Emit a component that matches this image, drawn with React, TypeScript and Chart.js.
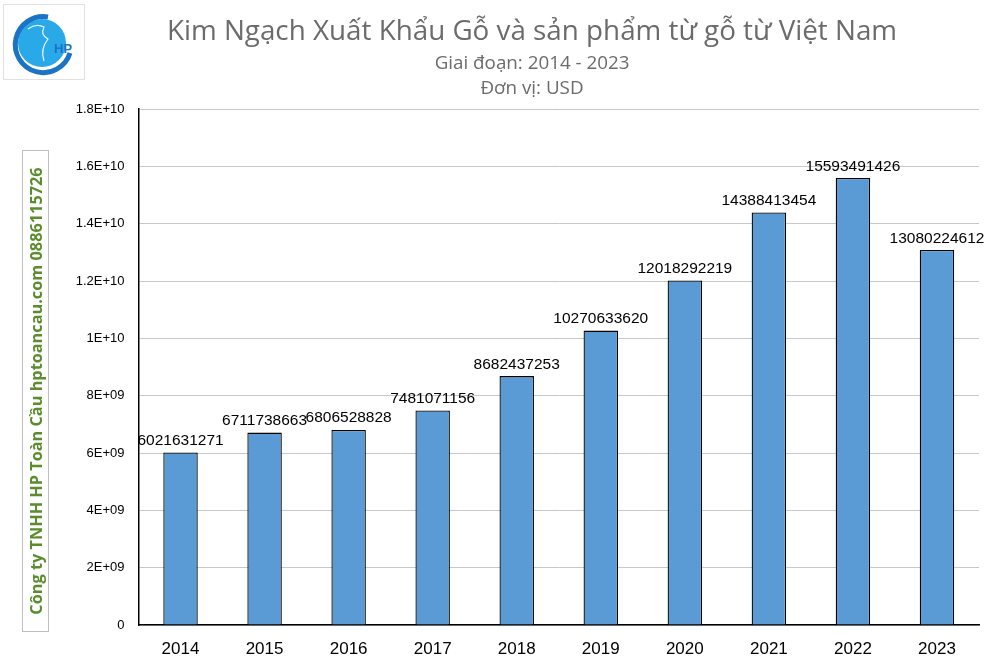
import React, { useEffect, useRef } from "react";
import { Chart, registerables } from "chart.js";

Chart.register(...registerables);

const categories = ["2014", "2015", "2016", "2017", "2018", "2019", "2020", "2021", "2022", "2023"];
const exportValues = [
  6021631271, 6711738663, 6806528828, 7481071156, 8682437253,
  10270633620, 12018292219, 14388413454, 15593491426, 13080224612,
];
const yTickLabels = ["0", "2E+09", "4E+09", "6E+09", "8E+09", "1E+10", "1.2E+10", "1.4E+10", "1.6E+10", "1.8E+10"];

const titleText = "Kim Ngạch Xuất Khẩu Gỗ và sản phẩm từ gỗ từ Việt Nam";
const subtitleText = "Giai đoạn: 2014 - 2023";
const unitText = "Đơn vị: USD";
const sideText = "Công ty TNHH HP Toàn Cầu hptoancau.com 0886115726";

const valueLabelPlugin = {
  id: "valueLabels",
  afterDatasetsDraw(chart: any) {
    const ctx = chart.ctx;
    const meta = chart.getDatasetMeta(0);
    const data = chart.data.datasets[0].data;
    ctx.save();
    ctx.font = "15.5px 'Liberation Sans', Arial, sans-serif";
    ctx.fillStyle = "#000";
    ctx.textAlign = "center";
    ctx.textBaseline = "bottom";
    meta.data.forEach((el: any, i: number) => {
      ctx.fillText(String(data[i]), el.x, el.y - 4);
    });
    ctx.restore();
  },
};

export default function App() {
  const canvasRef = useRef<HTMLCanvasElement | null>(null);

  useEffect(() => {
    document.body.style.margin = "0";
    const chart = new Chart(canvasRef.current as HTMLCanvasElement, {
      type: "bar",
      data: {
        labels: categories,
        datasets: [
          {
            data: exportValues,
            backgroundColor: "#5B9BD5",
            borderColor: "#000000",
            borderWidth: 1.3,
            barPercentage: 0.41,
            categoryPercentage: 1,
          },
        ],
      },
      options: {
        animation: false,
        responsive: false,
        maintainAspectRatio: false,
        layout: { padding: { left: 0, top: 109, right: 9, bottom: 0 } },
        plugins: {
          legend: { display: false },
          title: { display: false },
          tooltip: { enabled: false },
        },
        scales: {
          x: {
            grid: { display: false, drawTicks: false },
            border: { color: "#000", width: 1.5 },
            ticks: {
              color: "#000",
              padding: 14,
              font: { family: "'Liberation Sans', Arial, sans-serif", size: 17 },
            },
            afterFit(scale: any) {
              scale.height = 43;
            },
          },
          y: {
            min: 0,
            max: 1.8e10,
            grid: { color: "#c8c8c8", drawTicks: false, lineWidth: 1 },
            border: { color: "#000", width: 1.5 },
            ticks: {
              stepSize: 2e9,
              color: "#000",
              padding: 14,
              font: { family: "'Liberation Sans', Arial, sans-serif", size: 13 },
              callback: (_v: any, i: number) => yTickLabels[i],
            },
            afterFit(scale: any) {
              scale.width = 138.5;
            },
          },
        },
      },
      plugins: [valueLabelPlugin],
    });
    return () => chart.destroy();
  }, []);

  const headerStyle: React.CSSProperties = {
    position: "absolute",
    left: 532,
    transform: "translateX(-50%)",
    whiteSpace: "nowrap",
    fontFamily: "'Open Sans', sans-serif",
    color: "#6b6b6b",
  };

  return (
    <div style={{ position: "relative", width: 988, height: 668, background: "#fff", overflow: "hidden" }}>
      <canvas ref={canvasRef} width={988} height={668} style={{ position: "absolute", left: 0, top: 0 }} />
      <div style={{ ...headerStyle, top: 9, fontSize: 27.8, lineHeight: "40px" }}>{titleText}</div>
      <div style={{ ...headerStyle, top: 49, fontSize: 18.8, lineHeight: "26px" }}>{subtitleText}</div>
      <div style={{ ...headerStyle, top: 74, fontSize: 18.8, lineHeight: "26px" }}>{unitText}</div>
      <div
        style={{
          position: "absolute",
          left: 3,
          top: 4,
          width: 82,
          height: 76,
          border: "1px solid #e2e2e2",
          boxSizing: "border-box",
        }}
      >
        <svg width="80" height="74" viewBox="0 0 80 74">
          <circle cx="38" cy="38" r="24" fill="#2aa9e8" />
          <path d="M24 24 q8 -6 16 -2 q-4 8 4 12 q-8 10 -4 22" fill="none" stroke="#e8f6fd" strokeWidth="1.2" />
          <path d="M44 12 A28 28 0 1 0 66 48" fill="none" stroke="#1a73c4" strokeWidth="5" />
          <text x="50" y="48" fontFamily="Arial" fontWeight="bold" fontSize="13" fill="#1a73c4">HP</text>
        </svg>
      </div>
      <div
        style={{
          position: "absolute",
          left: 22,
          top: 150,
          width: 27,
          height: 482,
          border: "1px solid #bfbfbf",
          boxSizing: "border-box",
        }}
      >
        <div
          style={{
            position: "absolute",
            left: "50%",
            top: "50%",
            transform: "translate(-50%, -50%) rotate(-90deg)",
            whiteSpace: "nowrap",
            fontFamily: "'Open Sans', sans-serif",
            fontWeight: 700,
            fontSize: 16.3,
            color: "#5b8d2f",
          }}
        >
          {sideText}
        </div>
      </div>
    </div>
  );
}
